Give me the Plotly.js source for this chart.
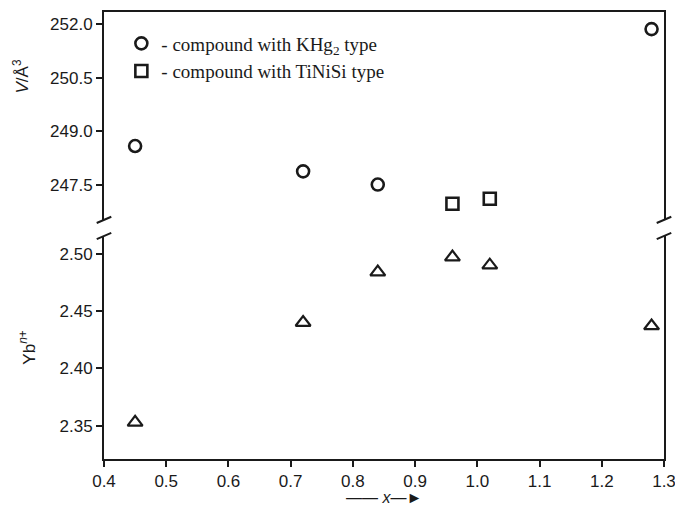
<!DOCTYPE html>
<html>
<head>
<meta charset="utf-8">
<script src="https://cdn.plot.ly/plotly-3.0.1.min.js"></script>
<style>html,body{margin:0;padding:0;background:#fff;}#chart{width:675px;height:509px;}</style>
</head>
<body>
<div id="chart"></div>
<script>
// Data
const xKHg2 = [0.45, 0.72, 0.84, 1.28];
const vKHg2 = [248.58, 247.87, 247.50, 251.86];
const xTiNiSi = [0.96, 1.02];
const vTiNiSi = [246.96, 247.10];
const xYb = [0.45, 0.72, 0.84, 0.96, 1.02, 1.28];
const ybValence = [2.353, 2.440, 2.484, 2.497, 2.490, 2.437];
const vTicks = [247.5, 249.0, 250.5, 252.0];
const ybTicks = [2.35, 2.40, 2.45, 2.50];
const xTicks = [0.4, 0.5, 0.6, 0.7, 0.8, 0.9, 1.0, 1.1, 1.2, 1.3];

const ink = '#1a1a1a';
const sans = 'Liberation Sans, Arial, sans-serif';
const tickFont = {family: sans, size: 17, color: ink};

const traces = [
  {x: xKHg2, y: vKHg2, xaxis: 'x2', yaxis: 'y2', mode: 'markers', type: 'scatter',
   name: '- compound with KHg<sub>2</sub> type',
   marker: {symbol: 'circle-open', size: 12, color: ink, line: {width: 2.6, color: ink}}},
  {x: xTiNiSi, y: vTiNiSi, xaxis: 'x2', yaxis: 'y2', mode: 'markers', type: 'scatter',
   name: '- compound with TiNiSi type',
   marker: {symbol: 'square-open', size: 12, color: ink, line: {width: 2.6, color: ink}}},
  {x: xYb, y: ybValence, xaxis: 'x', yaxis: 'y', mode: 'markers', type: 'scatter',
   showlegend: false,
   marker: {symbol: 'triangle-up-open', size: 13, color: ink, line: {width: 2.2, color: ink}}}
];

const topDom = [0.535, 1];
const botDom = [0, 0.499];

function slash(xp, yp) {
  return {type: 'line', xref: 'paper', yref: 'paper', x0: xp - 0.013, x1: xp + 0.013,
          y0: yp - 0.007, y1: yp + 0.007, line: {color: ink, width: 2}};
}

const layout = {
  width: 675, height: 509,
  margin: {l: 104, r: 11, t: 12, b: 50},
  paper_bgcolor: '#fff', plot_bgcolor: '#fff',
  showlegend: true,
  legend: {x: 0.031, y: 0.972, xanchor: 'left', yanchor: 'top', bgcolor: 'rgba(0,0,0,0)',
           font: {family: 'Liberation Serif, Times New Roman, serif', size: 19, color: ink},
           itemwidth: 30, tracegroupgap: 0},
  xaxis: {domain: [0, 1], anchor: 'y', range: [0.4, 1.3], tickvals: xTicks,
          ticktext: xTicks.map(v => v.toFixed(1)), ticklabeloverflow: 'allow',
          showline: true, linecolor: ink, linewidth: 2, ticks: 'outside', ticklen: 6,
          tickwidth: 2, tickcolor: ink, tickfont: tickFont, showgrid: false, zeroline: false},
  xaxis2: {domain: [0, 1], anchor: 'y2', matches: 'x', side: 'top', showticklabels: false,
           ticks: '', showline: true, linecolor: ink, linewidth: 2, showgrid: false, zeroline: false},
  yaxis: {domain: botDom, anchor: 'x', range: [2.321, 2.5155], tickvals: ybTicks,
          ticktext: ybTicks.map(v => v.toFixed(2)),
          showline: true, mirror: true, linecolor: ink, linewidth: 2, ticks: 'outside', ticklen: 6,
          tickwidth: 2, tickcolor: ink, tickfont: tickFont, showgrid: false, zeroline: false,
          title: {text: 'Yb<sup><i>n</i>+</sup>', font: {family: sans, size: 17, color: ink}, standoff: 20}},
  yaxis2: {domain: topDom, anchor: 'x2', range: [246.51, 252.34], tickvals: vTicks,
           ticktext: vTicks.map(v => v.toFixed(1)),
           showline: true, mirror: true, linecolor: ink, linewidth: 2, ticks: 'outside', ticklen: 6,
           tickwidth: 2, tickcolor: ink, tickfont: tickFont, showgrid: false, zeroline: false},
  annotations: [
    {text: '<i>V</i>/Å<sup>3</sup>', xref: 'paper', yref: 'paper', x: -0.148, y: 0.856,
     xanchor: 'center', yanchor: 'middle', textangle: -90, showarrow: false,
     font: {family: sans, size: 17, color: ink}},
    {text: '—— <i>x</i>—►', xref: 'paper', yref: 'paper', x: 0.5, y: -0.11,
     xanchor: 'center', yanchor: 'bottom', showarrow: false,
     font: {family: sans, size: 16, color: ink}}
  ],
  shapes: [
    slash(0, topDom[0]), slash(0, botDom[1]),
    slash(1, topDom[0]), slash(1, botDom[1])
  ]
};

Plotly.newPlot('chart', traces, layout, {displayModeBar: false, staticPlot: true});
</script>
</body>
</html>
